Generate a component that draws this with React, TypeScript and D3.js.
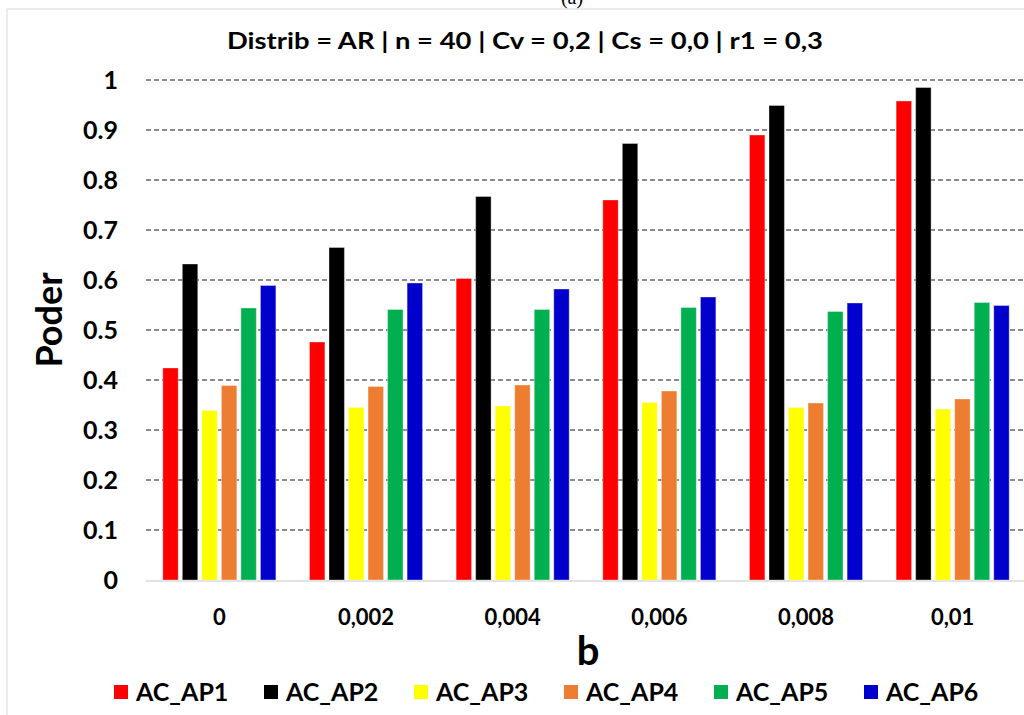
import * as d3 from "d3";

const categories = ["0", "0,002", "0,004", "0,006", "0,008", "0,01"];
const seriesNames = ["AC_AP1", "AC_AP2", "AC_AP3", "AC_AP4", "AC_AP5", "AC_AP6"];
const seriesColors = ["#ff0000", "#000000", "#ffff00", "#ed7d31", "#00b050", "#0000cc"];

const ap1 = [0.424, 0.476, 0.603, 0.760, 0.890, 0.958];
const ap2 = [0.632, 0.665, 0.767, 0.873, 0.949, 0.985];
const ap3 = [0.339, 0.345, 0.348, 0.355, 0.345, 0.342];
const ap4 = [0.389, 0.387, 0.390, 0.378, 0.354, 0.362];
const ap5 = [0.544, 0.541, 0.541, 0.545, 0.537, 0.555];
const ap6 = [0.589, 0.594, 0.582, 0.566, 0.554, 0.549];
const seriesValues = [ap1, ap2, ap3, ap4, ap5, ap6];

const yTicks = [0, 0.1, 0.2, 0.3, 0.4, 0.5, 0.6, 0.7, 0.8, 0.9, 1];

const W = 1024;
const H = 715;
const font = "Lato, 'Open Sans', sans-serif";

export default function App() {
  const x0 = d3.scaleBand<string>().domain(categories).range([146, 1026]).padding(0);
  const x1 = d3
    .scaleBand<string>()
    .domain(seriesNames)
    .range([0, x0.bandwidth()])
    .paddingInner(0.21)
    .paddingOuter(0.86);
  const y = d3.scaleLinear().domain([0, 1]).range([580, 80]);

  const legendX = d3.scaleBand<string>().domain(seriesNames).range([114, 1014]);

  return (
    <svg
      width={W}
      height={H}
      style={{ position: "absolute", left: 0, top: 0, background: "#fff" }}
      fontFamily={font}
    >
      {/* frame (cut at top / right like the source figure) */}
      <line x1={7} x2={W} y1={9} y2={9} stroke="#d9d9d9" />
      <line x1={7} x2={7} y1={9} y2={H} stroke="#d9d9d9" />
      <text x={572} y={3.5} textAnchor="middle" fontFamily="'Liberation Serif', serif" fontSize={20}>
        (a)
      </text>

      <text
        x={525}
        y={48.5}
        textAnchor="middle"
        fontSize={23}
        fontWeight="bold"
        textLength={596}
        lengthAdjust="spacingAndGlyphs"
      >
        Distrib = AR | n = 40 | Cv = 0,2 | Cs = 0,0 | r1 = 0,3
      </text>

      {/* gridlines */}
      {yTicks.slice(1).map(t => (
        <line
          key={t}
          x1={146}
          x2={W}
          y1={y(t)}
          y2={y(t)}
          stroke="#666"
          strokeWidth={1.3}
          strokeDasharray="5,3"
        />
      ))}
      <line x1={146} x2={W} y1={y(0) + 1} y2={y(0) + 1} stroke="#d9d9d9" strokeWidth={1.5} />

      {/* y ticks */}
      {yTicks.map(t => (
        <text key={t} x={118} y={y(t)} dy="0.36em" textAnchor="end" fontSize={25} fontWeight="bold">
          {String(t)}
        </text>
      ))}

      {/* bars */}
      {categories.map((c, ci) => (
        <g key={c} transform={`translate(${x0(c)},0)`}>
          {seriesNames.map((s, si) => {
            const v = seriesValues[si][ci];
            return (
              <rect
                key={s}
                x={x1(s)}
                y={y(v)}
                width={x1.bandwidth()}
                height={y(0) - y(v)}
                fill={seriesColors[si]}
                stroke="#fff"
                strokeOpacity={0.35}
                strokeWidth={1}
              />
            );
          })}
        </g>
      ))}

      {/* x ticks */}
      {categories.map(c => (
        <text
          key={c}
          x={(x0(c) ?? 0) + x0.bandwidth() / 2}
          y={617}
          dy="0.36em"
          textAnchor="middle"
          fontSize={22}
          fontWeight="bold"
        >
          {c}
        </text>
      ))}

      <text x={588} y={665} textAnchor="middle" fontSize={40} fontWeight="bold">
        b
      </text>
      <text
        transform="translate(62,320) rotate(-90)"
        textAnchor="middle"
        fontSize={36}
        fontWeight="bold"
      >
        Poder
      </text>

      {/* legend */}
      {seriesNames.map((s, si) => (
        <g key={s} transform={`translate(${legendX(s)},0)`}>
          <rect x={0} y={685} width={14} height={14} fill={seriesColors[si]} />
          <text x={22} y={701} fontSize={25} fontWeight="bold">
            {s}
          </text>
        </g>
      ))}
    </svg>
  );
}
